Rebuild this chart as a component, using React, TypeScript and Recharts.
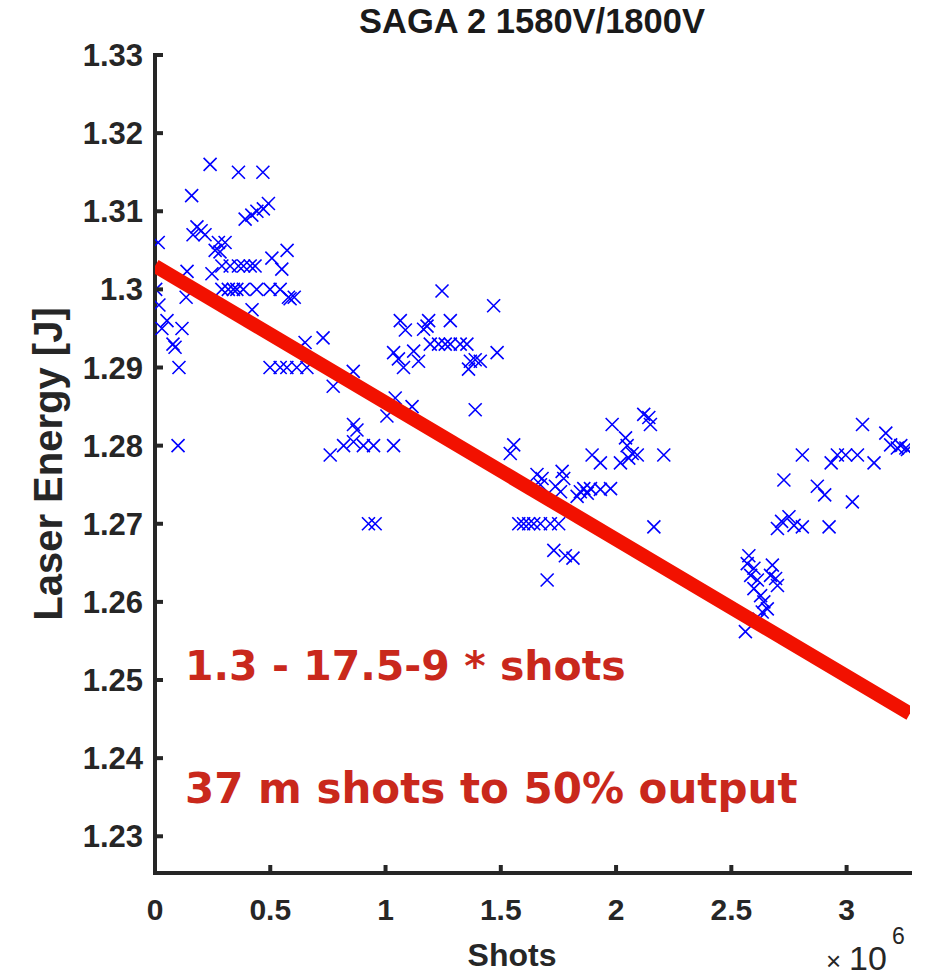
import React from 'react';
import { ScatterChart, Scatter, XAxis, YAxis } from 'recharts';

// shots in units of 10^6, energy in J
const shotsM = [
  0.159, 0.391, 0.42, 0.442, 0.47, 0.492, 0.239, 0.362, 0.468, 0.182,
  0.2, 0.217, 0.165, 0.275, 0.304, 0.261, 0.282, 0.014, 0.573, 0.507,
  0.55, 0.29, 0.326, 0.362, 0.384, 0.413, 0.434, 0.247, 0.139, 0.29,
  0.318, 0.34, 0.355, 0.383, 0.441, 0.499, 0.543, 0.579, 0.586, 0.604,
  0.003, 0.017, 0.052, 0.03, 0.117, 0.078, 0.087, 0.104, 0.135, 0.1,
  0.421, 0.729, 0.651, 0.625, 0.499, 0.543, 0.572, 0.615, 0.659, 0.773,
  0.86, 0.861, 0.876, 1.006, 1.042, 0.76, 0.818, 0.861, 0.904, 0.948,
  1.035, 0.926, 0.955, 1.245, 1.469, 1.064, 1.086, 1.187, 1.165, 1.18,
  1.281, 1.194, 1.23, 1.259, 1.281, 1.324, 1.353, 1.035, 1.056, 1.078,
  1.122, 1.143, 1.368, 1.389, 1.411, 1.36, 1.484, 1.389, 1.115, 1.556,
  1.541, 1.657, 1.679, 1.672, 1.766, 1.773, 1.578, 1.599, 1.621, 1.643,
  1.672, 1.715, 1.751, 1.73, 1.78, 1.813, 1.701, 1.983, 2.041, 2.048,
  2.07, 2.092, 2.019, 2.055, 1.896, 1.932, 2.12, 2.149, 2.142, 2.207,
  2.164, 1.845, 1.86, 1.831, 1.875, 1.889, 1.932, 1.976, 1.737, 1.759,
  2.728, 2.808, 2.7, 2.718, 2.75, 2.772, 2.808, 2.873, 2.905, 3.025,
  2.924, 2.933, 2.96, 2.996, 3.047, 3.119, 3.069, 3.17, 3.191, 3.22,
  3.235, 3.257, 3.264, 2.576, 2.569, 2.598, 2.584, 2.613, 2.598, 2.627,
  2.641, 2.656, 2.678, 2.67, 2.692, 2.7, 2.634, 2.62, 2.561,
];

const energyJ = [
  1.312, 1.309, 1.3095, 1.31, 1.3103, 1.311, 1.316, 1.315, 1.315, 1.308,
  1.3075, 1.307, 1.307, 1.306, 1.306, 1.305, 1.3048, 1.306, 1.305, 1.304,
  1.3026, 1.303, 1.303, 1.303, 1.303, 1.303, 1.303, 1.302, 1.3023, 1.3,
  1.3, 1.3, 1.3, 1.3, 1.3, 1.3, 1.3, 1.299, 1.2988, 1.299,
  1.3, 1.298, 1.296, 1.295, 1.295, 1.293, 1.2926, 1.29, 1.299, 1.28,
  1.2974, 1.2938, 1.2932, 1.2925, 1.29, 1.29, 1.29, 1.29, 1.29, 1.2876,
  1.2895, 1.2827, 1.282, 1.2838, 1.2861, 1.2788, 1.28, 1.2805, 1.28, 1.28,
  1.28, 1.27, 1.27, 1.2998, 1.2979, 1.296, 1.2948, 1.296, 1.2949, 1.2953,
  1.296, 1.293, 1.293, 1.293, 1.293, 1.293, 1.293, 1.2919, 1.2911, 1.29,
  1.2921, 1.2908, 1.2908, 1.291, 1.2908, 1.2898, 1.2919, 1.2846, 1.285, 1.2801,
  1.279, 1.2763, 1.2758, 1.275, 1.2767, 1.2758, 1.27, 1.27, 1.27, 1.27,
  1.27, 1.27, 1.27, 1.2666, 1.2659, 1.2656, 1.2628, 1.2827, 1.281, 1.28,
  1.279, 1.2788, 1.2778, 1.2784, 1.2788, 1.2778, 1.284, 1.2827, 1.2836, 1.2788,
  1.2696, 1.2741, 1.2745, 1.2735, 1.2739, 1.2745, 1.2744, 1.2745, 1.2748, 1.2741,
  1.2756, 1.2788, 1.2694, 1.2703, 1.2709, 1.2698, 1.2696, 1.2748, 1.2737, 1.2728,
  1.2696, 1.2778, 1.2788, 1.2788, 1.2788, 1.2778, 1.2827, 1.2816, 1.2801, 1.2797,
  1.28, 1.2797, 1.2795, 1.2659, 1.2649, 1.2643, 1.2634, 1.2628, 1.2617, 1.2608,
  1.26, 1.2591, 1.2647, 1.2634, 1.263, 1.2621, 1.2587, 1.2578, 1.2562,
];

// fitted line, end points
const fitShotsM = [0, 3.275];
const fitEnergyJ = [1.303, 1.2457];

const xTicks = [0, 0.5, 1, 1.5, 2, 2.5, 3];
const yTicks = [1.23, 1.24, 1.25, 1.26, 1.27, 1.28, 1.29, 1.3, 1.31, 1.32, 1.33];
const X_MAX = 3.275;
const Y_MIN = 1.2253;
const Y_MAX = 1.33;

const points = shotsM.map((s, i) => ({ s, e: energyJ[i] }));
const fit = fitShotsM.map((s, i) => ({ s, e: fitEnergyJ[i] }));

const AXIS = '#262626';
const TICK_FONT = '"Liberation Sans", Arial, sans-serif';
const NOTE_FONT = '"DejaVu Sans", sans-serif';

const Cross = (props: any) => {
  const { cx, cy } = props;
  if (cx == null || cy == null) return <g />;
  const r = 6.5;
  return (
    <path
      d={`M${cx - r},${cy - r}L${cx + r},${cy + r}M${cx - r},${cy + r}L${cx + r},${cy - r}`}
      stroke="#0000ff"
      strokeWidth={1.6}
      fill="none"
    />
  );
};

const NoShape = () => <g />;

const BottomTick = ({ x, y, payload }: any) => (
  <g>
    <line x1={x} x2={x} y1={y} y2={y - 8} stroke={AXIS} strokeWidth={4} />
    <text x={x} y={y + 47} textAnchor="middle" fontSize={30} fontWeight="bold" fill={AXIS} fontFamily={TICK_FONT}>
      {String(payload.value)}
    </text>
  </g>
);

const LeftTick = ({ x, y, payload }: any) => (
  <g>
    <line x1={x} x2={x + 8} y1={y} y2={y} stroke={AXIS} strokeWidth={4} />
    <text x={x - 12} y={y + 11} textAnchor="end" fontSize={31} fontWeight="bold" fill={AXIS} fontFamily={TICK_FONT}>
      {String(Number(payload.value.toFixed(2)))}
    </text>
  </g>
);

const TopTick = ({ x, y }: any) => (
  <line x1={x} x2={x} y1={y} y2={y + 8} stroke={AXIS} strokeWidth={4} />
);

const RightTick = ({ x, y }: any) => (
  <line x1={x} x2={x - 8} y1={y} y2={y} stroke={AXIS} strokeWidth={4} />
);

const axisLine = { stroke: AXIS, strokeWidth: 4, strokeLinecap: 'square' as const };

export default function App() {
  return (
    <div style={{ position: 'absolute', left: 0, top: 0, width: 926, height: 976, background: '#fff' }}>
      <ScatterChart width={926} height={976} margin={{ top: 55, right: 16, bottom: 0, left: 0 }}>
        <XAxis
          xAxisId="b"
          dataKey="s"
          type="number"
          domain={[0, X_MAX]}
          ticks={xTicks}
          allowDataOverflow
          height={103}
          interval={0}
          tickSize={0}
          tickMargin={0}
          tickLine={false}
          axisLine={axisLine}
          tick={<BottomTick />}
        />
        <XAxis
          xAxisId="t"
          dataKey="s"
          type="number"
          orientation="top"
          domain={[0, X_MAX]}
          ticks={xTicks}
          allowDataOverflow
          height={0}
          interval={0}
          tickSize={0}
          tickMargin={0}
          tickLine={false}
          axisLine={axisLine}
          tick={<TopTick />}
        />
        <YAxis
          yAxisId="l"
          dataKey="e"
          type="number"
          domain={[Y_MIN, Y_MAX]}
          ticks={yTicks}
          allowDataOverflow
          width={155}
          interval={0}
          tickSize={0}
          tickMargin={0}
          tickLine={false}
          axisLine={axisLine}
          tick={<LeftTick />}
        />
        <YAxis
          yAxisId="r"
          dataKey="e"
          type="number"
          orientation="right"
          domain={[Y_MIN, Y_MAX]}
          ticks={yTicks}
          allowDataOverflow
          width={0}
          interval={0}
          tickSize={0}
          tickMargin={0}
          tickLine={false}
          axisLine={axisLine}
          tick={<RightTick />}
        />
        <Scatter data={points} xAxisId="b" yAxisId="l" shape={<Cross />} isAnimationActive={false} />
        <Scatter
          data={fit}
          xAxisId="t"
          yAxisId="r"
          shape={<NoShape />}
          line={{ stroke: '#f21100', strokeWidth: 14 }}
          lineType="joint"
          isAnimationActive={false}
        />
      </ScatterChart>
      <svg width={926} height={976} style={{ position: 'absolute', left: 0, top: 0, pointerEvents: 'none' }}>
        <text x={532} y={33} textAnchor="middle" fontSize={34.5} fontWeight="bold" fill="#1a1a1a" fontFamily={TICK_FONT}>
          SAGA 2 1580V/1800V
        </text>
        <text transform="translate(62,464) rotate(-90)" textAnchor="middle" fontSize={40} fontWeight="bold" fill={AXIS} fontFamily={TICK_FONT}>
          Laser Energy [J]
        </text>
        <text x={512} y={966} textAnchor="middle" fontSize={32} fontWeight="bold" fill={AXIS} fontFamily={TICK_FONT}>
          Shots
        </text>
        <text x={826} y={970} fontSize={26} fill={AXIS} fontFamily={TICK_FONT}>
          ×
        </text>
        <text x={849} y={970} fontSize={34} fill={AXIS} fontFamily={TICK_FONT}>
          10
        </text>
        <text x={892} y={944} fontSize={23} fill={AXIS} fontFamily={TICK_FONT}>
          6
        </text>
        <text x={185} y={680} fontSize={41} fontWeight="bold" fill="#c9281c" fontFamily={NOTE_FONT}>
          1.3 - 17.5-9 * shots
        </text>
        <text x={185} y={803} fontSize={42} fontWeight="bold" fill="#c9281c" fontFamily={NOTE_FONT}>
          37 m shots to 50% output
        </text>
      </svg>
    </div>
  );
}
